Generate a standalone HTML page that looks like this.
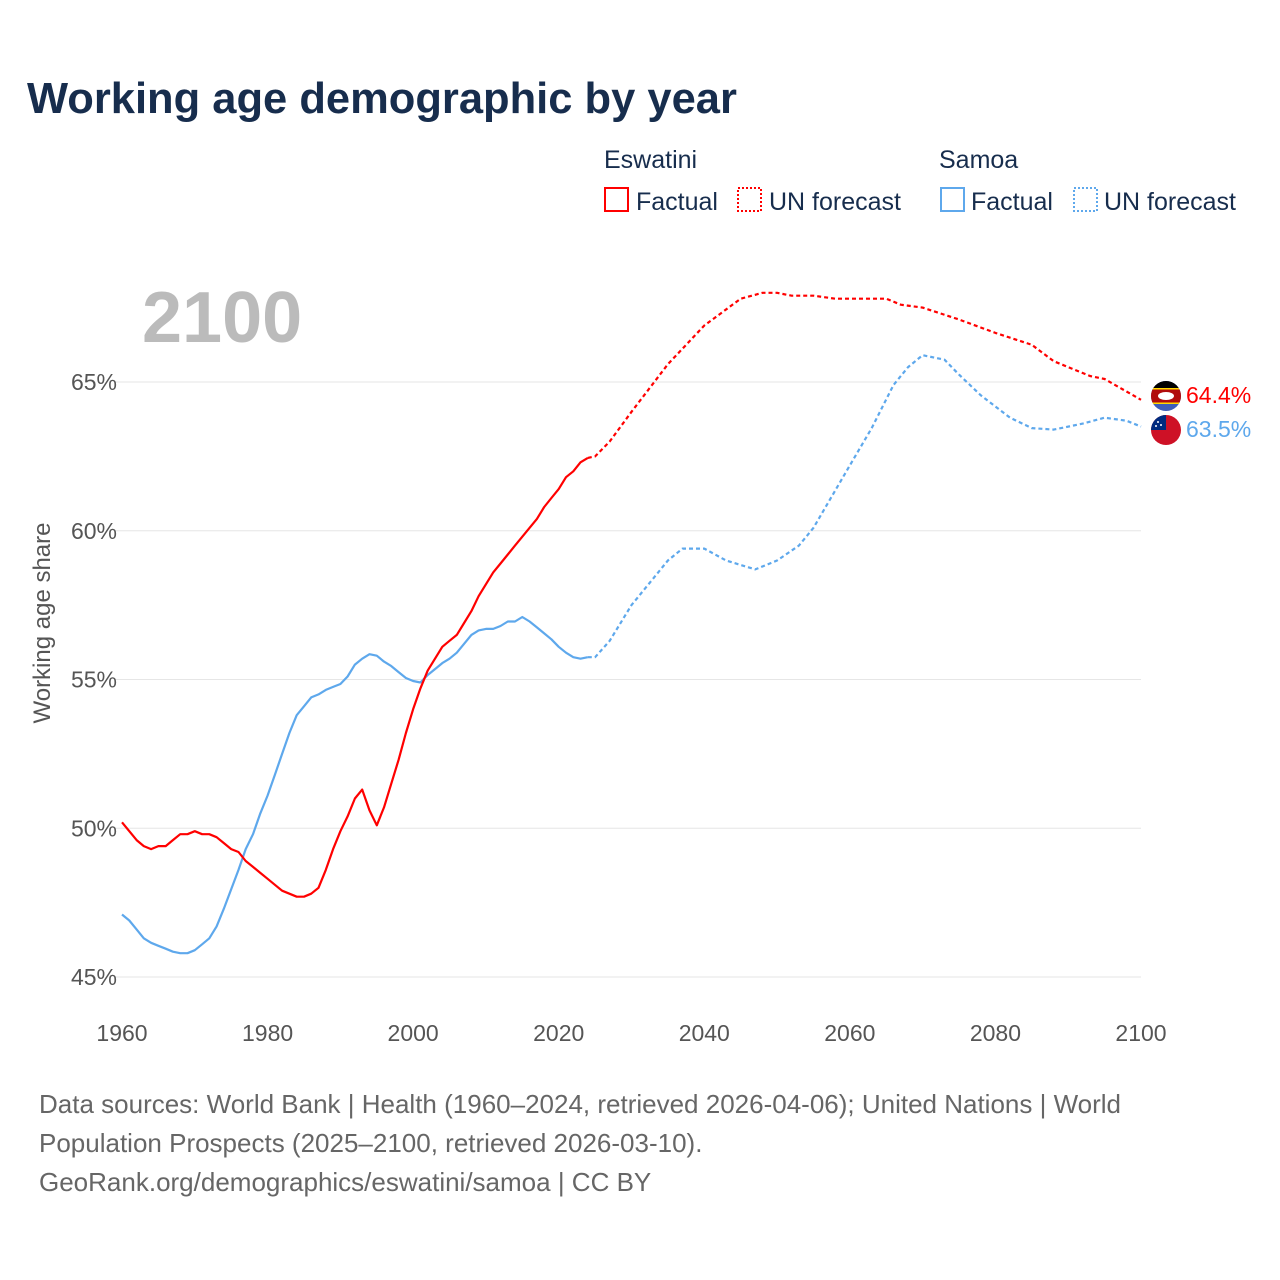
<!DOCTYPE html>
<html><head><meta charset="utf-8"><style>
body{margin:0;background:#fff;font-family:"Liberation Sans",sans-serif;}
#wrap{position:relative;width:1280px;height:1280px;overflow:hidden;}
</style></head><body>
<div id="wrap">
<svg id="svg" width="1280" height="1280" xmlns="http://www.w3.org/2000/svg">
<text x="27" y="113" font-size="43.5" font-weight="bold" fill="#172d4d">Working age demographic by year</text>
<g font-size="25" fill="#172d4d">
<text x="604" y="168">Eswatini</text>
<text x="939" y="168">Samoa</text>
<g><rect x="605" y="188" width="23" height="23" fill="none" stroke="#f00" stroke-width="2"/><text x="636" y="210">Factual</text></g>
<g><rect x="738" y="188" width="23" height="23" fill="none" stroke="#f00" stroke-width="2" stroke-dasharray="2,2"/><text x="769" y="210">UN forecast</text></g>
<g><rect x="941" y="188" width="23" height="23" fill="none" stroke="#5ea8ec" stroke-width="2"/><text x="971" y="210">Factual</text></g>
<g><rect x="1074" y="188" width="23" height="23" fill="none" stroke="#5ea8ec" stroke-width="2" stroke-dasharray="2,2"/><text x="1104" y="210">UN forecast</text></g>
</g>
<text x="142" y="342" font-size="72" font-weight="bold" fill="#bbb">2100</text>
<g id="grid"></g>
<g id="yt" font-size="23" fill="#555" text-anchor="end"></g>
<g id="xt" font-size="23" fill="#555" text-anchor="middle"></g>
<text transform="translate(50,623) rotate(-90)" font-size="24" fill="#555" text-anchor="middle">Working age share</text>
<g id="lines"></g>
<g>
<clipPath id="c1"><circle cx="1166" cy="396" r="15"/></clipPath>
<g clip-path="url(#c1)"><rect x="1150" y="380" width="32" height="32" fill="#3e5eb9"/><rect x="1150" y="380" width="32" height="8" fill="#000"/><rect x="1150" y="389" width="32" height="14" fill="#b10c0c"/><rect x="1150" y="388" width="32" height="1.5" fill="#ffd900"/><rect x="1150" y="402.5" width="32" height="1.5" fill="#ffd900"/><ellipse cx="1166" cy="396" rx="8" ry="4" fill="#fff"/></g></g>
<g>
<clipPath id="c2"><circle cx="1166" cy="430" r="15"/></clipPath>
<g clip-path="url(#c2)"><rect x="1150" y="414" width="32" height="32" fill="#ce1126"/><rect x="1150" y="414" width="16" height="16" fill="#002b7f"/><circle cx="1158" cy="422" r="1" fill="#fff"/><circle cx="1161" cy="425" r="1" fill="#fff"/><circle cx="1156" cy="426" r="1" fill="#fff"/></g></g>
<text id="lab1" x="1186" y="403" font-size="23" fill="#f00">64.4%</text>
<text id="lab2" x="1186" y="437" font-size="23" fill="#5ea8ec">63.5%</text>
<g font-size="26" fill="#666">
<text x="39" y="1113">Data sources: World Bank | Health (1960–2024, retrieved 2026-04-06); United Nations | World</text>
<text x="39" y="1152">Population Prospects (2025–2100, retrieved 2026-03-10).</text>
<text x="39" y="1191">GeoRank.org/demographics/eswatini/samoa | CC BY</text>
</g>
</svg></div>
<script>
const yTicks=[45,50,55,60,65];
const xTicks=[1960,1980,2000,2020,2040,2060,2080,2100];
const factYears=[];for(let y=1960;y<=2024;y++)factYears.push(y);
const eswFact=[50.2,49.9,49.6,49.4,49.3,49.4,49.4,49.6,49.8,49.8,49.9,49.8,49.8,49.7,49.5,49.3,49.2,48.9,48.7,48.5,48.3,48.1,47.9,47.8,47.7,47.7,47.8,48.0,48.6,49.3,49.9,50.4,51.0,51.3,50.6,50.1,50.7,51.5,52.3,53.2,54.0,54.7,55.3,55.7,56.1,56.3,56.5,56.9,57.3,57.8,58.2,58.6,58.9,59.2,59.5,59.8,60.1,60.4,60.8,61.1,61.4,61.8,62.0,62.3,62.45];
const eswFcYears=[2024,2025,2027,2030,2035,2040,2045,2048,2050,2052,2055,2058,2065,2067,2070,2075,2080,2085,2088,2090,2093,2095,2100];
const eswFc=[62.45,62.5,63.0,64.0,65.6,66.9,67.8,68.0,68.0,67.9,67.9,67.8,67.8,67.6,67.5,67.1,66.65,66.25,65.7,65.5,65.2,65.1,64.4];
const samFact=[47.1,46.9,46.6,46.3,46.15,46.05,45.95,45.85,45.8,45.8,45.9,46.1,46.3,46.7,47.3,47.95,48.6,49.3,49.8,50.5,51.1,51.8,52.5,53.2,53.8,54.1,54.4,54.5,54.65,54.75,54.85,55.1,55.5,55.7,55.85,55.8,55.6,55.45,55.25,55.05,54.95,54.9,55.15,55.35,55.55,55.7,55.9,56.2,56.5,56.65,56.7,56.7,56.8,56.95,56.95,57.1,56.95,56.75,56.55,56.35,56.1,55.9,55.75,55.7,55.75];
const samFcYears=[2024,2025,2027,2030,2033,2035,2037,2040,2043,2047,2050,2053,2055,2060,2063,2066,2068,2070,2073,2075,2078,2082,2085,2088,2092,2095,2098,2100];
const samFc=[55.75,55.75,56.3,57.5,58.4,59.0,59.4,59.4,59.0,58.7,59.0,59.5,60.1,62.2,63.45,64.9,65.5,65.9,65.75,65.25,64.55,63.8,63.45,63.4,63.6,63.8,63.7,63.5];
const NS="http://www.w3.org/2000/svg";
const X=y=>122+(y-1960)*(1019/140);
const Y=v=>382+(65-v)*29.75;
function mk(tag,attrs,parent){const e=document.createElementNS(NS,tag);for(const k in attrs)e.setAttribute(k,attrs[k]);parent.appendChild(e);return e;}
const grid=document.getElementById('grid'),yt=document.getElementById('yt'),xt=document.getElementById('xt'),lines=document.getElementById('lines');
yTicks.forEach(v=>{
 const l=mk('line',{x1:115,x2:1141,y1:Y(v),y2:Y(v),stroke:'#e6e6e6','stroke-width':1},grid);
 
 
 const t=mk('text',{x:117,y:Y(v)+8},yt);t.textContent=v+'%';
 
 
});
xTicks.forEach(v=>{
 const t=mk('text',{x:X(v),y:1041},xt);t.textContent=v;
 
 
});
function path(xs,vs,color,dash,name){
 const d=xs.map((x,i)=>(i?'L':'M')+X(x).toFixed(1)+','+Y(vs[i]).toFixed(1)).join('');
 const p=mk('path',{d:d,fill:'none',stroke:color,'stroke-width':2.2,'stroke-linejoin':'round'},lines);
 if(dash)p.setAttribute('stroke-dasharray','4,3');
 
 
}
path(factYears,samFact,'#5ea8ec',false,'samoa-factual-line');
path(samFcYears,samFc,'#5ea8ec',true,'samoa-forecast-line');
path(factYears,eswFact,'#f00',false,'eswatini-factual-line');
path(eswFcYears,eswFc,'#f00',true,'eswatini-forecast-line');
document.getElementById('lab1').textContent=eswFc[eswFc.length-1].toFixed(1)+'%';
document.getElementById('lab2').textContent=samFc[samFc.length-1].toFixed(1)+'%';
</script>
</body></html>
